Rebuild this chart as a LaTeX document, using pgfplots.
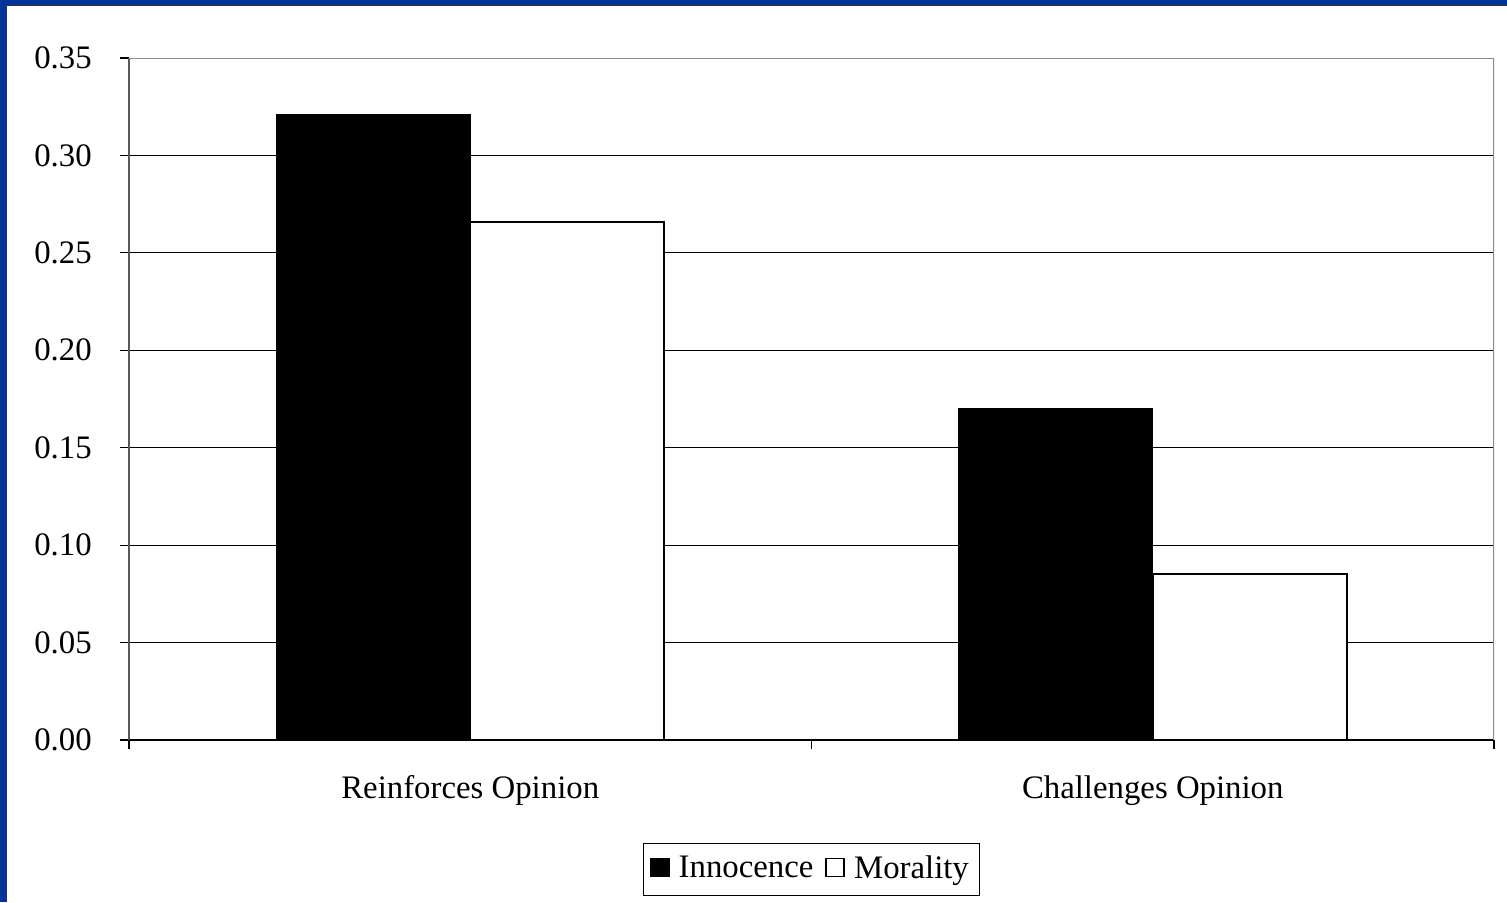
\documentclass[border=0pt]{standalone}
\usepackage{pgfplots}
\pgfplotsset{compat=1.18}
\usepackage{fontspec}
\setmainfont{Liberation Serif}
\definecolor{frameblue}{RGB}{0,51,153}
\begin{document}
\fontsize{16.4}{19.7}\selectfont
\begin{tikzpicture}
\useasboundingbox (0pt,0pt) rectangle (753.5pt,451pt);
\fill[frameblue] (0pt,0pt) rectangle (753.5pt,451pt);
\fill[white] (3pt,0pt) rectangle (753.5pt,448.5pt);
\draw[black!80, line width=0.5pt] (3.25pt,0pt) -- (3.25pt,448.25pt) -- (753.5pt,448.25pt);
\begin{axis}[
  at={(64.5pt,81pt)}, anchor=south west,
  scale only axis, width=682.5pt, height=341pt,
  xmin=-0.5, xmax=1.5, ymin=0, ymax=0.35,
  axis x line*=bottom, axis y line*=left,
  axis line style={-},
  x axis line style={black, line width=0.8pt},
  y axis line style={black!65, line width=0.8pt},
  ytick={0,0.05,0.10,0.15,0.20,0.25,0.30,0.35},
  yticklabel style={xshift=-8.5pt, /pgf/number format/.cd, fixed, fixed zerofill, precision=2},
  /pgf/number format/assume math mode=true,
  ymajorgrids, grid style={black, line width=0.5pt},
  tick align=outside, major tick length=4.5pt,
  tick style={black, line width=0.6pt},
  xtick={-0.5,0.5,1.5}, xticklabels={},
  extra x ticks={0,1},
  extra x tick labels={Reinforces Opinion,Challenges Opinion},
  extra x tick style={major tick length=0pt, xticklabel style={yshift=-12pt}},
  ybar=0pt, bar width=97pt,
  legend style={at={(0.5,-0.19)}, anchor=center, draw=black, line width=0.6pt,
    legend columns=2, inner xsep=3.5pt, inner ysep=4.2pt,
    /tikz/every odd column/.append style={column sep=2.5pt},
    /tikz/every even column/.append style={column sep=4pt}},
  legend image code/.code={\draw[#1, line width=0.8pt] (0pt,-3.5pt) rectangle (9pt,5.5pt);},
]
\addplot[fill=black, draw=black] coordinates {(0,0.321) (1,0.170)};
\addplot[fill=white, draw=black, line width=1pt] coordinates {(0,0.266) (1,0.085)};
\legend{Innocence,Morality}
\draw[black!45, line width=1pt] (rel axis cs:0,1) -- (rel axis cs:1,1) -- (rel axis cs:1,0);
\end{axis}
\end{tikzpicture}
\end{document}
